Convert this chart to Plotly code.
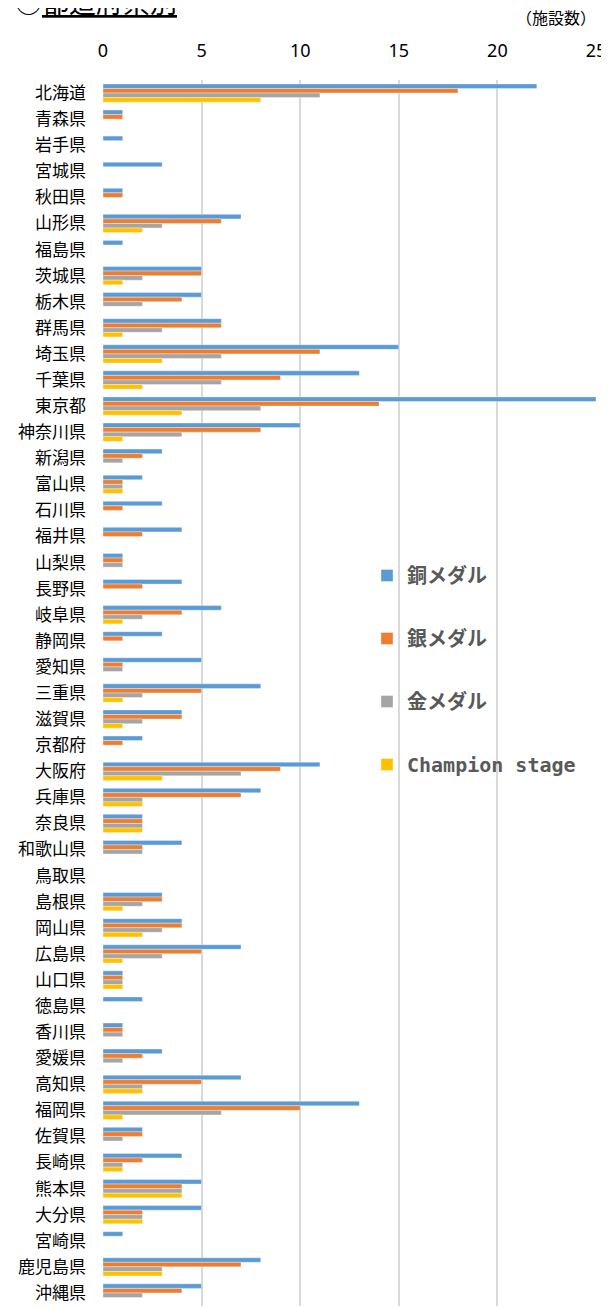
import plotly.graph_objects as go

prefectures = ["北海道","青森県","岩手県","宮城県","秋田県","山形県","福島県","茨城県","栃木県","群馬県",
               "埼玉県","千葉県","東京都","神奈川県","新潟県","富山県","石川県","福井県","山梨県","長野県",
               "岐阜県","静岡県","愛知県","三重県","滋賀県","京都府","大阪府","兵庫県","奈良県","和歌山県",
               "鳥取県","島根県","岡山県","広島県","山口県","徳島県","香川県","愛媛県","高知県","福岡県",
               "佐賀県","長崎県","熊本県","大分県","宮崎県","鹿児島県","沖縄県"]

bronze = [22,1,1,3,1,7,1,5,5,6, 15,13,25,10,3,2,3,4,1,4, 6,3,5,8,4,2,11,8,2,4, 0,3,4,7,1,2,1,3,7,13, 2,4,5,5,1,8,5]
silver = [18,1,0,0,1,6,0,5,4,6, 11,9,14,8,2,1,1,2,1,2, 4,1,1,5,4,1,9,7,2,2, 0,3,4,5,1,0,1,2,5,10, 2,2,4,2,0,7,4]
gold   = [11,0,0,0,0,3,0,2,2,3, 6,6,8,4,1,1,0,0,1,0, 2,0,1,2,2,0,7,2,2,2, 0,2,3,3,1,0,1,1,2,6, 1,1,4,2,0,3,2]
champ  = [8,0,0,0,0,2,0,1,0,1, 3,2,4,1,0,1,0,0,0,0, 1,0,0,1,1,0,3,2,2,0, 0,1,2,1,1,0,0,0,2,1, 0,1,4,2,0,3,0]

series_names = ["銅メダル", "銀メダル", "金メダル", "Champion stage"]
series_values = [bronze, silver, gold, champ]
series_colors = ["#5B9BD5", "#ED7D31", "#A5A5A5", "#FFC000"]
x_ticks = [0, 5, 10, 15, 20, 25]

# page body has an 8px margin; figure is sized so the plot area lands at
# absolute x 103..596, y 80..1306
W, H = 601, 1299
ML, MR, MT, MB = 95, 13, 72, 1
PW = W - ML - MR  # 493
PH = H - MT - MB  # 1226

fig = go.Figure()
for i, (name, vals, col) in enumerate(zip(series_names, series_values, series_colors)):
    fig.add_trace(go.Bar(
        y=prefectures, x=vals, name=name, orientation="h",
        marker=dict(color=col, line=dict(color="rgba(255,255,255,0.6)", width=0.6)),
        legendgroup=f"g{i}",
    ))

fig.update_layout(
    width=W, height=H,
    margin=dict(l=ML, r=MR, t=MT, b=MB),
    paper_bgcolor="white", plot_bgcolor="white",
    barmode="group", bargap=0.3, bargroupgap=0,
    showlegend=True,
    legend=dict(
        x=(367 - 103) / PW, y=1 - (556 - 80) / PH, xanchor="left", yanchor="top",
        font=dict(family="DejaVu Sans Mono, Noto Sans CJK JP", size=20, color="#595959", weight="bold"),
        tracegroupgap=34, itemwidth=30, bgcolor="rgba(0,0,0,0)",
    ),
    font=dict(family="Noto Sans CJK JP"),
)
fig.update_xaxes(
    side="top", range=[0, 25], tickvals=x_ticks, ticktext=[str(v) for v in x_ticks],
    showgrid=True, gridcolor="#D9D9D9", gridwidth=2,
    zeroline=False, showline=False, ticks="",
    tickfont=dict(family="Noto Sans, Open Sans", size=18, color="black"),
    ticklabelstandoff=18, fixedrange=True,
)
fig.update_yaxes(
    autorange="reversed", type="category",
    showgrid=False, zeroline=False, showline=False, ticks="",
    tickfont=dict(family="Noto Sans CJK JP", size=17, color="black"),
    ticklabelstandoff=16,
)

fig.add_annotation(
    text="○<u>都道府県別</u>", xref="paper", yref="paper",
    x=-(103 - 13) / PW, y=1 + (80 - 1) / PH, xanchor="left", yanchor="middle",
    showarrow=False, font=dict(family="Noto Sans CJK JP", size=27, color="black"),
)
fig.add_annotation(
    text="（施設数）", xref="paper", yref="paper",
    x=1 + 2 / PW, y=1 + (80 - 17) / PH, xanchor="right", yanchor="middle",
    showarrow=False, font=dict(family="Noto Sans CJK JP", size=16, color="black"),
)

fig.write_html("out.html")
